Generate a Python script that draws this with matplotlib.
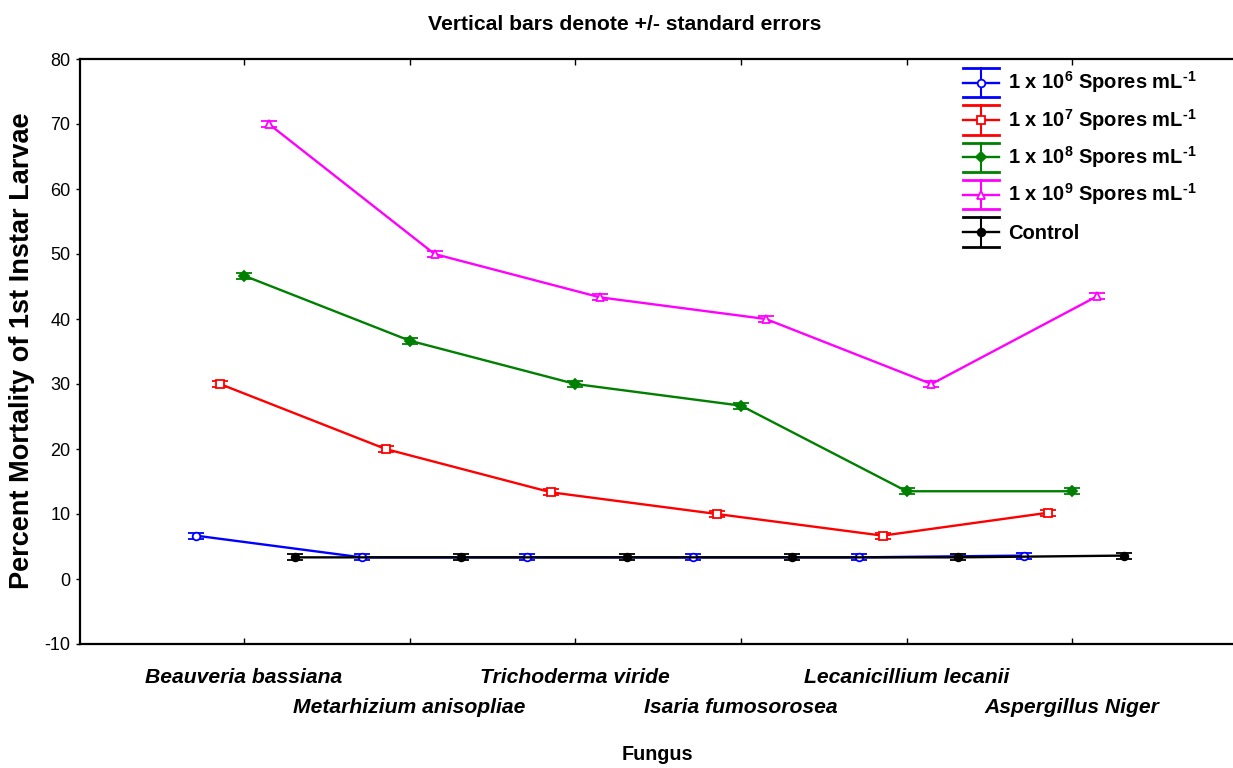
import matplotlib
matplotlib.use("Agg")
import matplotlib.pyplot as plt
from matplotlib.lines import Line2D
from matplotlib.legend_handler import HandlerBase
import numpy as np

plt.rcParams['font.family'] = ['Liberation Sans', 'DejaVu Sans']
plt.rcParams['mathtext.default'] = 'regular'
plt.rcParams['axes.unicode_minus'] = False

# ---------------- data ----------------
fungi = ["Beauveria bassiana", "Metarhizium anisopliae", "Trichoderma viride",
         "Isaria fumosorosea", "Lecanicillium lecanii", "Aspergillus Niger"]
series_names = ["1 x 10$^{6}$ Spores mL$^{\u20101}$",
                "1 x 10$^{7}$ Spores mL$^{\u20101}$",
                "1 x 10$^{8}$ Spores mL$^{\u20101}$",
                "1 x 10$^{9}$ Spores mL$^{\u20101}$",
                "Control"]
conc_1e6 = [6.67, 3.33, 3.33, 3.33, 3.33, 3.6]
conc_1e7 = [30.0, 20.0, 13.33, 10.0, 6.67, 10.2]
conc_1e8 = [46.67, 36.67, 30.0, 26.67, 13.5, 13.5]
conc_1e9 = [70.0, 50.0, 43.33, 40.0, 30.0, 43.5]
control  = [3.33, 3.33, 3.33, 3.33, 3.33, 3.6]
se_1e6 = [0.45, 0.45, 0.45, 0.45, 0.45, 0.45]
se_1e7 = [0.45, 0.45, 0.45, 0.45, 0.45, 0.45]
se_1e8 = [0.45, 0.45, 0.45, 0.45, 0.45, 0.45]
se_1e9 = [0.45, 0.45, 0.45, 0.45, 0.45, 0.45]
se_ctl = [0.45, 0.45, 0.45, 0.45, 0.45, 0.45]

values = [conc_1e6, conc_1e7, conc_1e8, conc_1e9, control]
errors = [se_1e6, se_1e7, se_1e8, se_1e9, se_ctl]
colors = ["#0000FF", "#FF0000", "#008000", "#FF00FF", "#000000"]
markers = ["o", "s", "D", "^", "o"]
facecols = ["white", "white", "#008000", "white", "#000000"]
offsets = [-0.29, -0.145, 0.0, 0.15, 0.31]

W, H = 1233, 768
fig = plt.figure(figsize=(W / 100, H / 100), dpi=100)
ax_l, ax_r, ax_t, ax_b = 80, 1233, 59, 644
ax = fig.add_axes([ax_l / W, 1 - ax_b / H, (ax_r - ax_l) / W, (ax_b - ax_t) / H])

x = np.arange(len(fungi))
for vals, err, c, m, fc, off in zip(values, errors, colors, markers, facecols, offsets):
    ax.errorbar(x + off, vals, yerr=err, color=c, lw=1.7, elinewidth=1.5,
                capsize=6, capthick=2.0, marker=m, markersize=5.5,
                markerfacecolor=fc, markeredgecolor=c, markeredgewidth=1.3)

ax.set_xlim(-0.99, 5.97)
ax.set_ylim(-10, 80)
ax.set_yticks(np.arange(-10, 81, 10))
ax.set_xticks(x)
ax.set_xticklabels([])
ax.tick_params(axis='x', direction='in', length=4, width=1, top=True, bottom=True)
ax.tick_params(axis='y', direction='out', length=3, width=1, pad=4, labelsize=13)
for s in ['left', 'top', 'bottom']:
    ax.spines[s].set_linewidth(1.6)
ax.spines['right'].set_visible(False)

# staggered category labels
for i, name in enumerate(fungi):
    yy = -0.0667 if i % 2 == 0 else -0.118
    ax.text(i, yy, name, transform=ax.get_xaxis_transform(), ha='center',
            va='baseline', fontsize=15.2, fontweight='bold', fontstyle='italic')

fig.text(625 / W, 1 - 30 / H, "Vertical bars denote +/- standard errors",
         ha='center', va='baseline', fontsize=15.2, fontweight='bold')
fig.text(657 / W, 1 - 760 / H, "Fungus", ha='center', va='baseline',
         fontsize=14.2, fontweight='bold')
fig.text(22 / W, 1 - 351 / H, "Percent Mortality of 1st Instar Larvae",
         rotation=90, ha='center', va='center', fontsize=19.5, fontweight='bold')


class ErrHandler(HandlerBase):
    def create_artists(self, legend, orig_handle, xdescent, ydescent, width,
                       height, fontsize, trans):
        c = orig_handle.get_color()
        x0, x1 = -xdescent, -xdescent + width
        xm = (x0 + x1) / 2
        cy = -ydescent + height / 2
        h = height / 2
        arts = [Line2D([x0, x1], [cy, cy], color=c, lw=1.7),
                Line2D([xm, xm], [cy - h, cy + h], color=c, lw=1.5),
                Line2D([x0, x1], [cy - h, cy - h], color=c, lw=2.0),
                Line2D([x0, x1], [cy + h, cy + h], color=c, lw=2.0),
                Line2D([xm], [cy], marker=orig_handle.get_marker(), color=c,
                       markersize=5.5, markerfacecolor=orig_handle.get_markerfacecolor(),
                       markeredgecolor=c, markeredgewidth=1.3, linestyle='none')]
        for a in arts:
            a.set_transform(trans)
        return arts


proxies = [Line2D([], [], color=c, marker=m, markerfacecolor=fc)
           for c, m, fc in zip(colors, markers, facecols)]
fs_leg = 14.5
fs_px = fs_leg * 100 / 72
leg = fig.legend(proxies, series_names, loc='upper left',
                 bbox_to_anchor=(963 / W, 1 - 68 / H), bbox_transform=fig.transFigure,
                 frameon=False, borderpad=0, borderaxespad=0,
                 prop={'weight': 'bold', 'size': fs_leg},
                 handlelength=36 / fs_px, handleheight=1.25 * 30 / fs_px,
                 labelspacing=0.4, handletextpad=9 / fs_px,
                 handler_map={Line2D: ErrHandler()})

fig.savefig("out.png", dpi=100)
